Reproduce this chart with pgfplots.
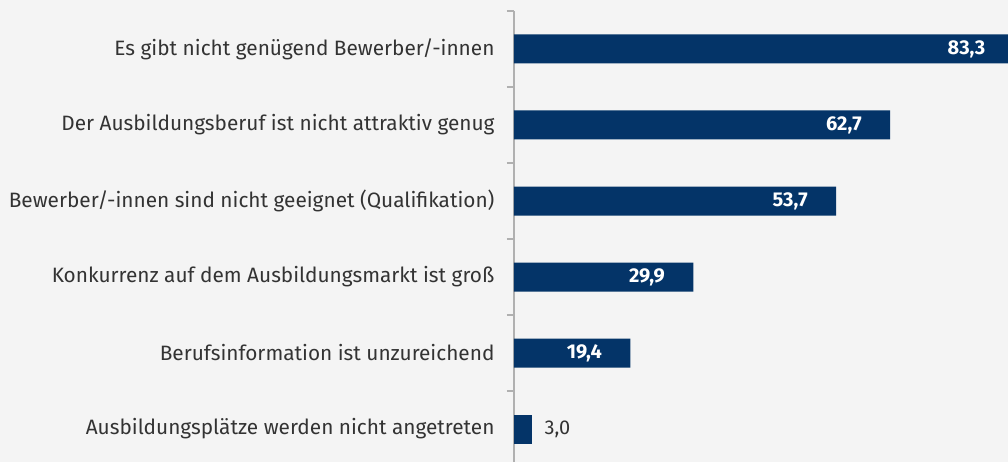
\documentclass[border=0pt]{standalone}
\usepackage{fontspec}
\setmainfont{Fira Sans}
\usepackage{pgfplots}
\pgfplotsset{compat=1.18}
\definecolor{barc}{HTML}{043468}
\definecolor{bgc}{HTML}{F4F4F4}
\definecolor{txt}{HTML}{333333}
\definecolor{axc}{HTML}{B0B0B0}
\begin{document}
\begin{tikzpicture}
\fill[bgc] (-514pt,0) rectangle (494pt,462pt);
\begin{axis}[
  scale only axis,
  width=510pt, height=451pt,
  xmin=0, xmax=85,
  ymin=-0.434, ymax=5.5,
  axis x line=none,
  axis y line=left,
  axis line style={-, axc, line width=2pt},
  ytick={0,1,2,3,4,5},
  yticklabels={Ausbildungsplätze werden nicht angetreten,
    Berufsinformation ist unzureichend,
    Konkurrenz auf dem Ausbildungsmarkt ist groß,
    Bewerber/-innen sind nicht geeignet (Qualifikation),
    Der Ausbildungsberuf ist nicht attraktiv genug,
    Es gibt nicht genügend Bewerber/-innen},
  minor ytick={0.5,1.5,2.5,3.5,4.5,5.5},
  major tick length=0pt,
  minor tick length=7pt,
  tick align=outside,
  minor tick style={axc, line width=1.5pt},
  yticklabel style={font=\fontsize{20.8}{24}\selectfont, text=txt, xshift=-16pt},
  xbar, bar width=29pt, bar shift=0pt,
  point meta=x,
  nodes near coords={\pgfmathprintnumber[fixed,fixed zerofill,precision=1,use comma,assume math mode=true]{\pgfplotspointmeta}},
]
\addplot[fill=barc, draw=none,
  nodes near coords style={anchor=east, text=white, font=\fontsize{20}{24}\selectfont\bfseries, xshift=-25pt}]
  coordinates {(19.4,1) (29.9,2) (53.7,3) (62.7,4) (83.3,5)};
\addplot[fill=barc, draw=none,
  nodes near coords style={anchor=west, text=txt, font=\fontsize{20}{24}\selectfont, xshift=9pt}]
  coordinates {(3.0,0)};
\end{axis}
\pgfresetboundingbox
\useasboundingbox (-514pt,0) rectangle (494pt,462pt);
\end{tikzpicture}
\end{document}
